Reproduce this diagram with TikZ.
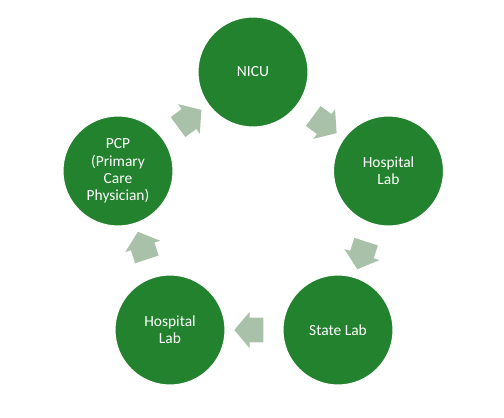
\documentclass[tikz,border=0pt]{standalone}
\usepackage{fontspec}
\setmainfont{Carlito}
\usetikzlibrary{shapes.arrows}
\definecolor{stagegreen}{RGB}{34,130,46}
\definecolor{flowgray}{RGB}{169,193,169}

\begin{document}
\begin{tikzpicture}[
		stage/.style={circle,fill=stagegreen,draw=white,line width=0.6pt,minimum size=2.2cm,
			inner sep=0pt,text=white,align=center,font=\fontsize{8.8}{9.8}\selectfont},
		flow/.style={single arrow,fill=flowgray,draw=none,inner xsep=0pt,inner ysep=0.24cm,
			minimum height=0.58cm,single arrow head extend=0.12cm,single arrow tip angle=100,
			sloped,allow upside down}]
		
		\useasboundingbox (0,0) rectangle (10.08,8.34);
		
		% stages of the loop
		\node[stage] (nicu)  at (5.06,6.90) {NICU};
		\node[stage] (labR)  at (7.77,4.92) {Hospital\\Lab};
		\node[stage] (state) at (6.76,1.74) {State Lab};
		\node[stage] (labL)  at (3.40,1.74) {Hospital\\Lab};
		\node[stage] (pcp)   at (2.36,4.92) {PCP\\(Primary\\Care\\Physician)};
		
		% block arrows, clockwise
		\path (nicu)  -- node[flow] (fa) {} (labR);
		\path (labR)  -- node[flow] (fb) {} (state);
		\path (state) -- node[flow] (fc) {} (labL);
		\path (labL)  -- node[flow] (fd) {} (pcp);
		\path (pcp)   -- node[flow] (fe) {} (nicu);
		
	\end{tikzpicture}
\end{document}
